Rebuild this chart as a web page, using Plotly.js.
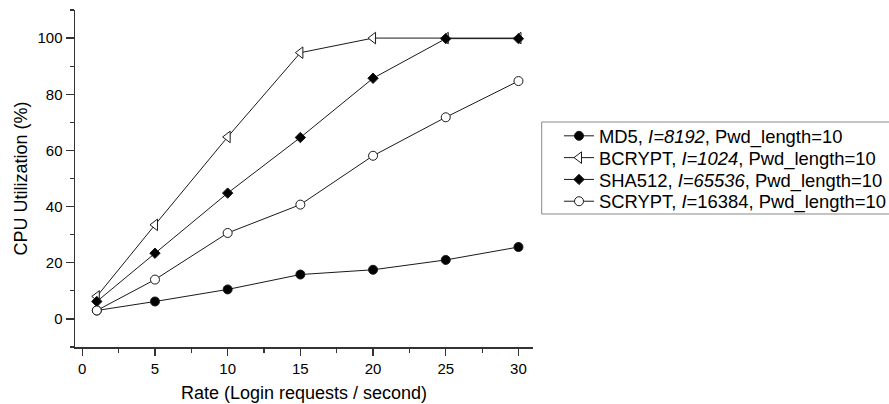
<!DOCTYPE html>
<html><head><meta charset="utf-8">
<script src="https://cdn.plot.ly/plotly-3.0.1.min.js"></script>
<style>html,body{margin:0;padding:0;background:#fff}#chart{width:889px;height:404px}</style>
</head><body><div id="chart"></div>
<script>
const rates = [1, 5, 10, 15, 20, 25, 30];
const md5 = [3.0, 6.2, 10.5, 15.8, 17.5, 21.0, 25.6];
const bcrypt = [8.0, 33.5, 64.8, 94.8, 100, 100, 100];
const sha512 = [6.2, 23.4, 44.8, 64.6, 85.7, 99.8, 99.8];
const scrypt = [3.0, 14.0, 30.6, 40.7, 58.1, 71.8, 84.7];
const names = [
  'MD5, <i>I=8192</i>, Pwd_length=10',
  'BCRYPT, <i>I=1024</i>, Pwd_length=10',
  'SHA512, <i>I=65536</i>, Pwd_length=10',
  'SCRYPT, <i>I</i>=16384, Pwd_length=10'
];
const xTickVals = [0, 5, 10, 15, 20, 25, 30];
const yTickVals = [0, 20, 40, 60, 80, 100];
const xTitle = 'Rate (Login requests / second)';
const yTitle = 'CPU Utilization (%)';

function tr(y, name, symbol, fill, size) {
  return {x: rates, y: y, name: name, type: 'scatter', mode: 'lines+markers',
    line: {color: '#1a1a1a', width: 1},
    marker: {symbol: symbol, color: fill, size: size, line: {color: '#1a1a1a', width: 1}}};
}
const data = [
  tr(md5, names[0], 'circle', '#000', 9),
  tr(bcrypt, names[1], 'triangle-left', '#fff', 10),
  tr(sha512, names[2], 'diamond', '#000', 8),
  tr(scrypt, names[3], 'circle', '#fff', 9)
];
const font = {family: 'Liberation Sans, Arial, sans-serif', color: '#000'};
const axisCol = '#333';
const layout = {
  width: 889, height: 404,
  margin: {l: 75, r: 356, t: 10, b: 57, autoexpand: false},
  paper_bgcolor: '#fff', plot_bgcolor: '#fff',
  font: Object.assign({size: 15}, font),
  showlegend: true,
  legend: {x: 1.0568, y: 0.6677, xanchor: 'left', yanchor: 'top',
    borderwidth: 0, bgcolor: 'rgba(0,0,0,0)', font: Object.assign({size: 18.4}, font),
    tracegroupgap: 0, itemwidth: 30},
  shapes: [{type: 'rect', xref: 'paper', yref: 'paper',
    x0: 1.019, x1: 1.80, y0: 0.3947, y1: 0.6677,
    line: {color: '#888', width: 1}, fillcolor: 'rgba(0,0,0,0)', layer: 'below'}],
  xaxis: {range: [-0.5, 31], tickvals: xTickVals, automargin: false,
    showgrid: false, zeroline: false, showline: true, linecolor: axisCol, linewidth: 1.5,
    ticks: 'outside', ticklen: 7, tickcolor: axisCol, tickwidth: 1.2,
    minor: {dtick: 2.5, ticks: 'outside', ticklen: 4, tickcolor: axisCol, showgrid: false},
    tickfont: {size: 15},
    title: {text: xTitle, font: {size: 18}, standoff: 11}},
  yaxis: {range: [-10, 110], tickvals: yTickVals, automargin: false,
    showgrid: false, zeroline: false, showline: true, linecolor: axisCol, linewidth: 1.5,
    ticks: 'outside', ticklen: 8, tickcolor: axisCol, tickwidth: 1.2,
    minor: {dtick: 10, ticks: 'outside', ticklen: 4, tickcolor: axisCol, showgrid: false},
    tickfont: {size: 15},
    title: {text: yTitle, font: {size: 18}, standoff: 5}}
};
Plotly.newPlot('chart', data, layout, {displayModeBar: false, staticPlot: true}).then(function (gd) {
  // tighten legend row spacing to match the reference
  const rowY0 = 137, rowStep = 21.8;
  const items = gd.querySelectorAll('.legend .traces');
  items.forEach(function (g, i) {
    const t = g.querySelector('.legendtext');
    if (!t) return;
    const r = t.getBoundingClientRect();
    const cy = r.top + r.height / 2;
    const m = /translate\(\s*([-\d.e]+)[ ,]+([-\d.e]+)\s*\)/.exec(g.getAttribute('transform') || '');
    if (!m) return;
    const nx = parseFloat(m[1]), ny = parseFloat(m[2]) + (rowY0 + i * rowStep - cy);
    g.setAttribute('transform', 'translate(' + nx + ',' + ny + ')');
  });
});
</script></body></html>
